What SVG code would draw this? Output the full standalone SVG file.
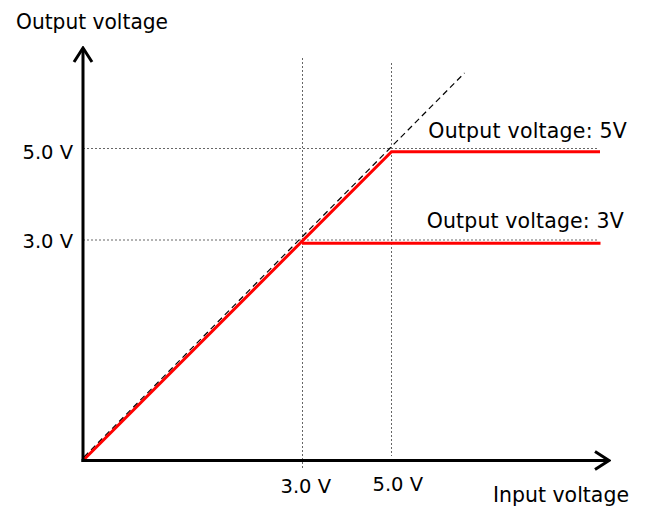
<svg xmlns="http://www.w3.org/2000/svg" width="653" height="516" viewBox="0 0 653 516">
  <defs>
    <marker id="arrow" viewBox="-18 -12 20 24" markerWidth="20" markerHeight="24" refX="0" refY="0" orient="auto" markerUnits="userSpaceOnUse">
      <path d="M-14,-9 L0,0 L-14,9" fill="none" stroke="#000" stroke-width="3"/>
    </marker>
  </defs>
  <style>
    .grid { stroke: #666; stroke-width: 1; stroke-dasharray: 2 2; fill: none; }
    .ideal { stroke: #000; stroke-width: 1.2; stroke-dasharray: 6 4; fill: none; }
    .out { stroke: #ff0000; stroke-width: 3; fill: none; stroke-linejoin: miter; }
    .axis { stroke: #000; stroke-width: 3; fill: none; }
    text { font-family: "DejaVu Sans", Verdana, sans-serif; font-size: 20.5px; fill: #000; }
    .tick { font-size: 19.5px; }
  </style>
  <rect width="653" height="516" fill="#fff"/>
  <g id="grid">
    <line class="grid" x1="83" y1="148.5" x2="598" y2="148.5"/>
    <line class="grid" x1="83" y1="240" x2="598" y2="240"/>
    <line class="grid" x1="302.5" y1="58" x2="302.5" y2="469"/>
    <line class="grid" x1="391.5" y1="63" x2="391.5" y2="456"/>
  </g>
  <g id="connectors">
    <line class="ideal" x1="84" y1="457" x2="464.5" y2="73"/>
    <polyline class="out" points="83,460.5 391.5,151.7 600,151.7"/>
    <line class="out" x1="302" y1="243.3" x2="600.5" y2="243.3"/>
    <line class="axis" x1="83" y1="462" x2="83" y2="48" marker-end="url(#arrow)"/>
    <line class="axis" x1="81.5" y1="460.5" x2="609" y2="460.5" marker-end="url(#arrow)"/>
  </g>
  <g id="labels">
    <text x="16" y="29" textLength="152" lengthAdjust="spacingAndGlyphs">Output voltage</text>
    <text class="tick" x="22.5" y="159.3">5.0 V</text>
    <text class="tick" x="22.5" y="248.3">3.0 V</text>
    <text class="tick" x="280.5" y="493.3">3.0 V</text>
    <text class="tick" x="372.5" y="490.7">5.0 V</text>
    <text x="493" y="501.7" textLength="136" lengthAdjust="spacingAndGlyphs">Input voltage</text>
    <text x="428.3" y="138.3" textLength="198.5" lengthAdjust="spacing">Output voltage: 5V</text>
    <text x="426.7" y="228.3" textLength="197" lengthAdjust="spacing">Output voltage: 3V</text>
  </g>
</svg>
